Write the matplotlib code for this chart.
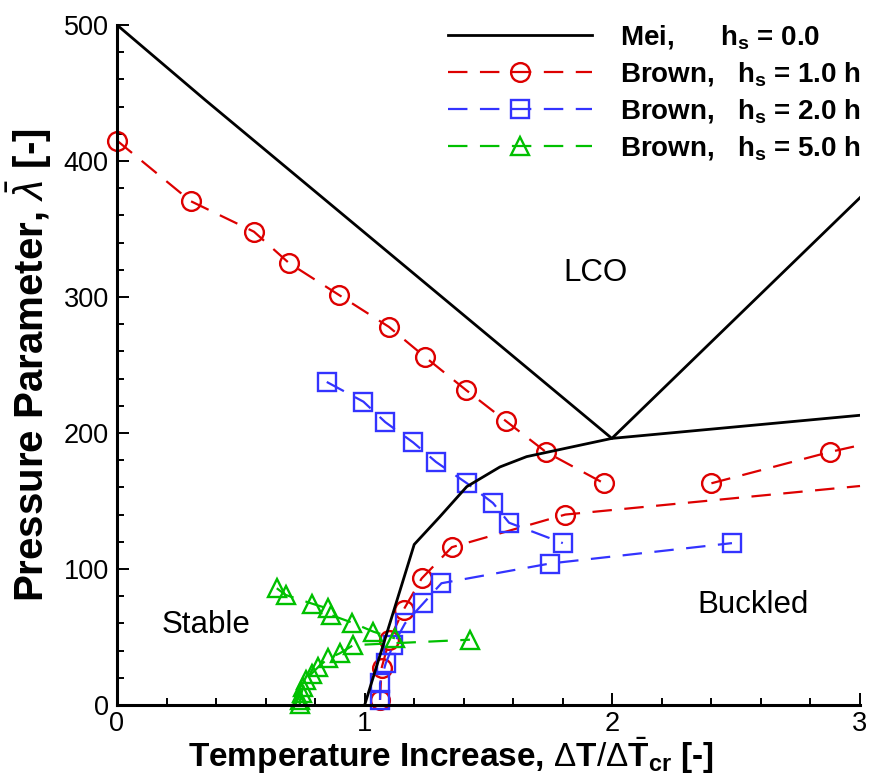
import matplotlib
matplotlib.use("Agg")
import matplotlib.pyplot as plt
from matplotlib.lines import Line2D

plt.rcParams['font.family'] = ['Liberation Sans', 'DejaVu Sans']
plt.rcParams['mathtext.fontset'] = 'custom'
plt.rcParams['mathtext.rm'] = 'Liberation Sans'
plt.rcParams['mathtext.bf'] = 'Liberation Sans:bold'
plt.rcParams['mathtext.it'] = 'Liberation Sans:italic'
plt.rcParams['lines.scale_dashes'] = False

# Mei stability boundaries (h_s = 0)
mei_upper_x = [0.0, 0.355, 1.998, 3.0]
mei_upper_y = [500, 445, 196, 373]
mei_lower_x = [1.0, 1.2, 1.304, 1.412, 1.546, 1.654, 1.998, 3.0]
mei_lower_y = [0, 118, 138.5, 160.5, 175, 182.6, 196, 213]

# Brown, h_s = 1.0 h
red_lco_x = [0.0, 0.297, 0.553, 0.694, 0.896, 1.098, 1.243, 1.409, 1.570, 1.732, 1.966]
red_lco_y = [415, 370.5, 348, 325, 301.5, 278, 256, 231.6, 208.8, 186, 163]
red_buck_x = [1.062, 1.068, 1.10, 1.157, 1.23, 1.352, 1.81, 3.0]
red_buck_y = [3.7, 27, 48, 70, 93, 116, 140, 161]
red_post_x = [2.40, 2.878, 3.0]
red_post_y = [163, 186, 191]

# Brown, h_s = 2.0 h
blue_lco_x = [0.847, 0.995, 1.083, 1.196, 1.288, 1.413, 1.518, 1.583, 1.80]
blue_lco_y = [237.5, 223, 208, 193, 178.7, 163, 148.5, 134, 119]
blue_buck_x = [1.062, 1.062, 1.085, 1.115, 1.163, 1.237, 1.31, 1.748, 2.483]
blue_buck_y = [3.7, 16, 30.6, 44, 60, 74.8, 89.5, 104, 119]

# Brown, h_s = 5.0 h
green_lco_x = [0.645, 0.681, 0.786, 0.85, 0.866, 0.95, 1.035, 1.122]
green_lco_y = [85.8, 80.9, 74.6, 71, 66, 60.5, 53.9, 49]
green_buck_x = [0.738, 0.739, 0.745, 0.752, 0.765, 0.786, 0.813, 0.853, 0.90, 0.954, 1.425]
green_buck_y = [0.5, 3.7, 8.6, 13.5, 18, 23, 28, 34.3, 38, 44, 48]

region_labels = ['LCO', 'Stable', 'Buckled']
region_x = [1.934, 0.36, 2.57]
region_y = [317.6, 59, 73.5]

legend_labels = [r'Mei,      $\mathbf{h_s}$ = 0.0',
                 r'Brown,   $\mathbf{h_s}$ = 1.0 h',
                 r'Brown,   $\mathbf{h_s}$ = 2.0 h',
                 r'Brown,   $\mathbf{h_s}$ = 5.0 h']

RED, BLUE, GREEN = '#dd0000', '#3333ff', '#00c000'
DASH = (0, (14, 9))

fig = plt.figure(figsize=(8.79, 7.80), dpi=100)
ax = fig.add_axes([0.1331, 0.0962, 0.8453, 0.8718])

ax.plot(mei_upper_x, mei_upper_y, color='black', lw=2.0, zorder=3)
ax.plot(mei_lower_x, mei_lower_y, color='black', lw=2.0, zorder=3)

mk = dict(mfc='none', mew=1.7, lw=1.6, ls=DASH, clip_on=False)

ax.plot(red_lco_x, red_lco_y, color=RED, marker='o', ms=13.5, **mk)
ax.plot(red_buck_x, red_buck_y, color=RED, marker='o', ms=13.5,
        markevery=list(range(len(red_buck_x) - 1)), **mk)
ax.plot(red_post_x, red_post_y, color=RED, marker='o', ms=13.5,
        markevery=[0, 1], **mk)

ax.plot(blue_lco_x, blue_lco_y, color=BLUE, marker='s', ms=13, **mk)
ax.plot(blue_buck_x, blue_buck_y, color=BLUE, marker='s', ms=13, **mk)

ax.plot(green_lco_x, green_lco_y, color=GREEN, marker='^', ms=13.5, **mk)
ax.plot(green_buck_x, green_buck_y, color=GREEN, marker='^', ms=13.5, **mk)

for t, x, y in zip(region_labels, region_x, region_y):
    ax.text(x, y, t, fontsize=22.5, ha='center', va='center')

ax.set_xlim(0, 3)
ax.set_ylim(0, 500)
ax.set_xticks([0, 1, 2, 3])
ax.set_yticks([0, 100, 200, 300, 400, 500])
ax.set_xticks([i * 0.2 for i in range(16)], minor=True)
ax.set_yticks(list(range(0, 501, 20)), minor=True)
ax.tick_params(which='both', direction='in', width=1.4, labelsize=19.5)
ax.tick_params(which='major', length=8.5, pad=6)
ax.tick_params(axis='x', which='major', pad=4)
ax.tick_params(which='minor', length=5)
for s in ['top', 'right']:
    ax.spines[s].set_visible(False)
for s in ['left', 'bottom']:
    ax.spines[s].set_linewidth(2.2)

ax.set_xlabel(r'Temperature Increase, $\Delta\mathbf{T}/\Delta\bar{\mathbf{T}}_{\mathbf{cr}}$ [-]',
              fontsize=24, fontweight='bold', va='baseline')
ax.xaxis.set_label_coords(0.45, -0.0915)
ax.set_ylabel(r'Pressure Parameter, $\bar{\lambda}$ [-]',
              fontsize=29, fontweight='bold')
ax.yaxis.set_label_coords(-0.085, 0.5)

handles = [
    Line2D([], [], color='black', lw=2.0),
    Line2D([], [], color=RED, marker='o', ms=13.5, mfc='none', mew=1.7, lw=1.6, ls=DASH),
    Line2D([], [], color=BLUE, marker='s', ms=13, mfc='none', mew=1.7, lw=1.6, ls=DASH),
    Line2D([], [], color=GREEN, marker='^', ms=13.5, mfc='none', mew=1.7, lw=1.6, ls=DASH),
]
leg = ax.legend(handles, legend_labels, loc='upper right', bbox_to_anchor=(1.035, 1.04),
                frameon=False, numpoints=1, handlelength=5.2, handletextpad=1.0,
                labelspacing=0.33, prop={'weight': 'bold', 'size': 20})

fig.savefig('out.png', dpi=100)
